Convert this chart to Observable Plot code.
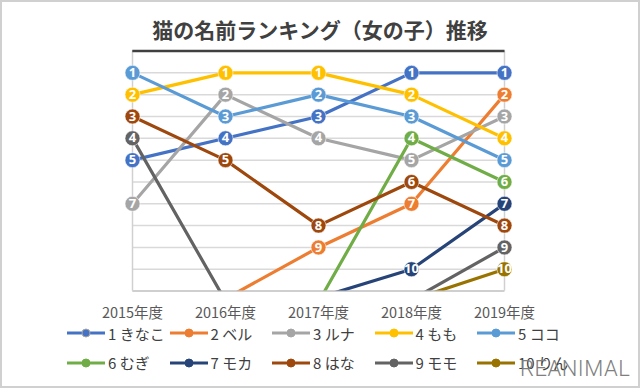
<!DOCTYPE html>
<html><head><meta charset="utf-8">
<script src="https://cdn.jsdelivr.net/npm/d3@7"></script>
<script src="https://cdn.jsdelivr.net/npm/@observablehq/plot@0.6"></script>
<style>
body{margin:0;background:#fff;}
#chart{position:relative;width:640px;height:388px;overflow:hidden;background:#fff;font-family:"Noto Sans CJK JP","Noto Sans",sans-serif;}
#frame{position:absolute;left:0;top:0;width:640px;height:388px;box-sizing:border-box;border:2px solid #d0d0d0;pointer-events:none;}
#title{position:absolute;left:0;top:19px;width:640px;text-align:center;font-size:21px;line-height:1;font-weight:700;color:#404040;}
#plot{position:absolute;left:0;top:0;}
.item{position:absolute;display:flex;align-items:center;height:20px;font-size:15px;color:#404040;white-space:nowrap;}
.item svg{margin-right:3px;}
#wm{position:absolute;left:520px;top:358px;font-family:Roboto,"Liberation Sans",sans-serif;font-weight:300;font-size:22px;line-height:1;color:#7f7f7f;letter-spacing:0.5px;}
</style></head>
<body>
<div id="chart">
  <div id="plot"></div>
  <div id="title">猫の名前ランキング（女の子）推移</div>
  <div id="legend"></div>
  <div id="wm">REANIMAL</div>
  <div id="frame"></div>
</div>
<script>
const years = ["2015年度", "2016年度", "2017年度", "2018年度", "2019年度"];
const names = ["1 きなこ", "2 ベル", "3 ルナ", "4 もも", "5 ココ", "6 むぎ", "7 モカ", "8 はな", "9 モモ", "10 りん"];
const colors = ["#4472C4", "#ED7D31", "#A5A5A5", "#FFC000", "#5B9BD5", "#70AD47", "#264478", "#9E480E", "#636363", "#997300"];
// ranks per year (values > 10 = out of top 10, drawn off the bottom of the chart)
const rankKinako = [5, 4, 3, 1, 1];
const rankBeru   = [null, 11.35, 9, 7, 2];
const rankRuna   = [7, 2, 4, 5, 3];
const rankMomo4  = [2, 1, 1, 2, 4];
const rankKoko   = [1, 3, 2, 3, 5];
const rankMugi   = [null, null, 11.5, 4, 6];
const rankMoka   = [null, null, 11.3, 10, 7];
const rankHana   = [3, 5, 8, 6, 8];
const rankMomo9  = [4, 11.45, null, 11.4, 9];
const rankRin    = [null, null, null, 11.4, 10];
const gridRanks = [1, 2, 3, 4, 5, 6, 7, 8, 9, 10];

const allRanks = [rankKinako, rankBeru, rankRuna, rankMomo4, rankKoko, rankMugi, rankMoka, rankHana, rankMomo9, rankRin];
const series = names.map((n, i) => years.map((y, j) => ({name: n, year: y, rank: allRanks[i][j]})));

const marks = [
  Plot.ruleY(gridRanks, {y: d => d, stroke: "#d9d9d9", strokeWidth: 1.5}),
  Plot.ruleY([11], {y: d => d, stroke: "#bfbfbf", strokeWidth: 1.5}),
  Plot.ruleX([years[0], years[4]], {x: d => d, stroke: "#d0d0d0", strokeWidth: 1.5}),
  Plot.ruleY([0], {y: d => d, stroke: "#404040", strokeWidth: 2.5}),
  Plot.axisX({tickSize: 0, tickPadding: 17, fontSize: 14.5, fill: "#595959", fontFamily: "Noto Sans CJK JP", label: null})
];
series.forEach((s, i) => {
  const shown = s.filter(d => d.rank != null && d.rank <= 10);
  marks.push(Plot.line(s, {x: "year", y: "rank", stroke: colors[i], strokeWidth: 3.2, clip: true}));
  marks.push(Plot.dot(shown, {x: "year", y: "rank", r: 7.5, fill: colors[i], stroke: "#ffffff", strokeOpacity: 0.55, strokeWidth: 1}));
  marks.push(Plot.text(shown, {x: "year", y: "rank", text: d => String(d.rank), fill: "white", fontWeight: "bold", fontSize: 13, fontFamily: "Noto Sans"}));
});

const chart = Plot.plot({
  width: 640, height: 388,
  marginLeft: 132.3, marginRight: 135.5, marginTop: 50.5, marginBottom: 97.4,
  x: {type: "point", domain: years, padding: 0, label: null},
  y: {domain: [0, 11], reverse: true, axis: null},
  style: {background: "transparent", overflow: "visible"},
  marks
});
document.getElementById("plot").appendChild(chart);

const legend = d3.select("#legend");
names.forEach((n, i) => {
  const row = Math.floor(i / 5), col = i % 5;
  const item = legend.append("div").attr("class", "item")
    .style("left", (67 + col * 102.5) + "px")
    .style("top", (row === 0 ? 323.3 : 352.7) + "px");
  const sw = item.append("svg").attr("width", 38).attr("height", 10);
  sw.append("line").attr("x1", 0).attr("x2", 38).attr("y1", 5).attr("y2", 5).attr("stroke", colors[i]).attr("stroke-width", 3.2);
  sw.append("circle").attr("cx", 19).attr("cy", 5).attr("r", 4).attr("fill", colors[i]).attr("stroke", i === 0 ? "#a5a5a5" : colors[i]).attr("stroke-width", 1);
  item.append("span").text(n);
});
</script>
</body></html>
